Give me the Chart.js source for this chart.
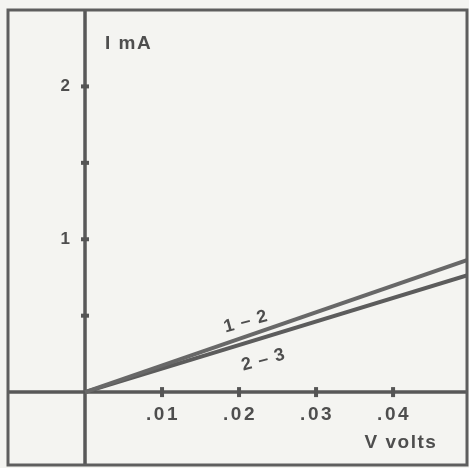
<!DOCTYPE html>
<html>
<head>
<meta charset="utf-8">
<script src="https://cdn.jsdelivr.net/npm/chart.js@4/dist/chart.umd.min.js"></script>
<style>
  html, body { margin: 0; padding: 0; background: #f4f4f1; }
  canvas { display: block; }
</style>
</head>
<body>
<canvas id="iv-chart" width="469" height="468"></canvas>
<script>
// Current vs voltage for the two junctions
const voltage = [0, 0.05];
const current12 = [0, 0.87];
const current23 = [0, 0.77];

// Axis ticks and the labels shown beside them
const xTickValues = [0.01, 0.02, 0.03, 0.04];
const xTickLabels = ['.01', '.02', '.03', '.04'];
const yTickValues = [0.5, 1, 1.5, 2];
const yTickLabels = ['', '1', '', '2'];

// Text placed in data coordinates
const curveLabels = [
  { text: '1 – 2', x: 0.0209, y: 0.46 },
  { text: '2 – 3', x: 0.0232, y: 0.21 }
];
const axisTitles = [
  { text: 'I mA', x: 0.0026, y: 2.28 },
  { text: 'V volts', x: 0.0363, y: -0.33 }
];

const INK = '#4e4e4e';
const FONT = '"Liberation Sans", Arial, sans-serif';

const toPoints = (xs, ys) => xs.map((x, i) => ({ x: x, y: ys[i] }));

// Paper, frame, axes through the origin, tick blobs and all text
const paperPlugin = {
  id: 'paper',
  beforeDraw(chart) {
    const ctx = chart.ctx;
    ctx.save();
    ctx.fillStyle = '#f4f4f1';
    ctx.fillRect(0, 0, chart.width, chart.height);

    const area = chart.chartArea;
    const xs = chart.scales.x;
    const ys = chart.scales.y;
    const x0 = xs.getPixelForValue(0);
    const y0 = ys.getPixelForValue(0);

    // axes
    ctx.strokeStyle = '#585858';
    ctx.lineWidth = 3.5;
    ctx.beginPath();
    ctx.moveTo(x0, area.top);
    ctx.lineTo(x0, area.bottom);
    ctx.moveTo(area.left, y0);
    ctx.lineTo(area.right, y0);
    ctx.stroke();

    // tick marks straddling the axes
    ctx.fillStyle = '#555';
    yTickValues.forEach(v => {
      const py = ys.getPixelForValue(v);
      ctx.fillRect(x0 - 4, py - 2, 8, 4);
    });
    xTickValues.forEach(v => {
      const px = xs.getPixelForValue(v);
      ctx.fillRect(px - 2, y0 - 5, 4, 10);
    });

    // tick labels
    ctx.fillStyle = INK;
    ctx.textBaseline = 'middle';
    ctx.font = 'bold 17px ' + FONT;
    ctx.textAlign = 'right';
    yTickValues.forEach((v, i) => {
      ctx.fillText(yTickLabels[i], x0 - 15, ys.getPixelForValue(v));
    });
    ctx.font = 'bold 19px ' + FONT;
    ctx.letterSpacing = '2.5px';
    ctx.textAlign = 'center';
    xTickValues.forEach((v, i) => {
      ctx.fillText(xTickLabels[i], xs.getPixelForValue(v) + 1, y0 + 23);
    });

    // axis titles
    ctx.font = 'bold 19px ' + FONT;
    ctx.letterSpacing = '1.5px';
    ctx.textAlign = 'left';
    axisTitles.forEach(t => {
      ctx.fillText(t.text, xs.getPixelForValue(t.x), ys.getPixelForValue(t.y));
    });

    // curve labels, tilted along the lines
    ctx.font = 'bold 18px ' + FONT;
    ctx.letterSpacing = '1px';
    ctx.textAlign = 'center';
    curveLabels.forEach(t => {
      ctx.save();
      ctx.translate(xs.getPixelForValue(t.x), ys.getPixelForValue(t.y));
      ctx.rotate(-0.27);
      ctx.fillText(t.text, 0, 0);
      ctx.restore();
    });
    ctx.restore();
  },
  afterDraw(chart) {
    const ctx = chart.ctx;
    const area = chart.chartArea;
    ctx.save();
    ctx.strokeStyle = '#5e5e5e';
    ctx.lineWidth = 3;
    ctx.strokeRect(area.left, area.top, area.right - area.left, area.bottom - area.top);
    ctx.restore();
  }
};

new Chart(document.getElementById('iv-chart'), {
  type: 'scatter',
  data: {
    datasets: [
      {
        label: '1-2',
        data: toPoints(voltage, current12),
        showLine: true,
        borderColor: '#686868',
        borderWidth: 4,
        pointRadius: 0
      },
      {
        label: '2-3',
        data: toPoints(voltage, current23),
        showLine: true,
        borderColor: '#5c5c5c',
        borderWidth: 4,
        pointRadius: 0
      }
    ]
  },
  options: {
    responsive: false,
    animation: false,
    devicePixelRatio: 1,
    layout: { padding: { left: 8, top: 10, right: 2, bottom: 3 } },
    plugins: {
      legend: { display: false },
      tooltip: { enabled: false }
    },
    scales: {
      x: { type: 'linear', display: false, min: -0.01, max: 0.0496 },
      y: { type: 'linear', display: false, min: -0.477, max: 2.5 }
    }
  },
  plugins: [paperPlugin]
});
</script>
</body>
</html>
